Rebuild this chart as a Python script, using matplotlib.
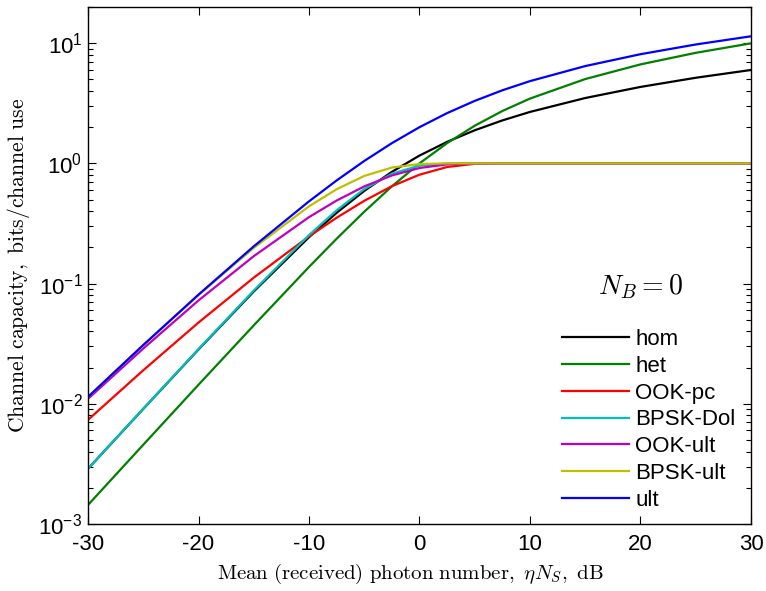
import math
import matplotlib
matplotlib.use('Agg')
import matplotlib.pyplot as plt
from matplotlib.ticker import FixedLocator, LogLocator, FuncFormatter, NullFormatter

# mean received photon number, dB
x_db = [-30, -25, -20, -15, -10, -7.5, -5, -2.5, 0, 2.5, 5, 7.5, 10, 15, 20, 25, 30]

# capacities (bits / channel use)
hom = [0.00288, 0.00907, 0.0283, 0.0859, 0.243, 0.388, 0.590, 0.850, 1.161, 1.510,
       1.885, 2.277, 2.679, 3.497, 4.324, 5.153, 5.983]
het = [0.00144, 0.00456, 0.0144, 0.0449, 0.1375, 0.236, 0.396, 0.644, 1.000, 1.474,
       2.057, 2.727, 3.459, 5.028, 6.658, 8.309, 9.967]
ook_pc = [0.00735, 0.0190, 0.0474, 0.112, 0.247, 0.353, 0.488, 0.646, 0.805, 0.933,
          0.9915, 0.9995, 1.0, 1.0, 1.0, 1.0, 1.0]
bpsk_dol = [0.00288, 0.00909, 0.0285, 0.0875, 0.253, 0.407, 0.611, 0.820, 0.958, 0.997,
            1.0, 1.0, 1.0, 1.0, 1.0, 1.0, 1.0]
ook_ult = [0.0110, 0.0288, 0.0724, 0.169, 0.357, 0.4905, 0.643, 0.793, 0.915, 0.981,
           0.9987, 1.0, 1.0, 1.0, 1.0, 1.0, 1.0]
bpsk_ult = [0.0114, 0.0308, 0.0801, 0.198, 0.439, 0.609, 0.786, 0.923, 0.987, 0.9994,
            1.0, 1.0, 1.0, 1.0, 1.0, 1.0, 1.0]
ult = [0.0114, 0.0308, 0.0809, 0.204, 0.483, 0.721, 1.047, 1.473, 2.000, 2.619,
       3.310, 4.055, 4.834, 6.448, 8.094, 9.749, 11.408]

series = [('hom', hom, 'k'),
          ('het', het, (0, 0.5, 0)),
          ('OOK-pc', ook_pc, (1, 0, 0)),
          ('BPSK-Dol', bpsk_dol, (0, 0.75, 0.75)),
          ('OOK-ult', ook_ult, (0.75, 0, 0.75)),
          ('BPSK-ult', bpsk_ult, (0.75, 0.75, 0)),
          ('ult', ult, (0, 0, 1))]

plt.rcParams['font.family'] = ['Liberation Sans', 'DejaVu Sans']
plt.rcParams['mathtext.fontset'] = 'custom'
plt.rcParams['mathtext.rm'] = 'Liberation Sans'
plt.rcParams['mathtext.it'] = 'Liberation Sans:italic'
plt.rcParams['axes.unicode_minus'] = False

fig = plt.figure(figsize=(7.66, 5.91), dpi=100)
ax = fig.add_axes([0.1149, 0.1134, 0.8655, 0.8748])

for name, vals, col in series:
    ax.plot(x_db, vals, color=col, lw=1.6, label=name)

ax.set_yscale('log')
ax.set_xlim(-30, 30)
ax.set_ylim(1e-3, 20)
ax.xaxis.set_major_locator(FixedLocator([-30, -20, -10, 0, 10, 20, 30]))
ax.yaxis.set_major_locator(LogLocator(base=10, numticks=10))
ax.yaxis.set_minor_locator(LogLocator(base=10, subs=range(2, 10), numticks=10))
ax.yaxis.set_minor_formatter(NullFormatter())
ax.yaxis.set_major_formatter(FuncFormatter(
    lambda v, p: r'$\mathregular{10^{%d}}$' % round(math.log10(v))))
ax.tick_params(which='both', direction='in', top=True, right=True, labelsize=16)
ax.tick_params(which='major', length=6, width=0.8)
ax.tick_params(which='minor', length=3.5, width=0.8)
ax.tick_params(axis='x', pad=7)
ax.tick_params(axis='y', pad=4)
for s in ax.spines.values():
    s.set_linewidth(1.0)

ax.set_xlabel(r'$\mathrm{Mean\ (received)\ photon\ number,}\ \eta N_S\mathrm{,\ dB}$',
              fontsize=15, math_fontfamily='cm')
ax.xaxis.set_label_coords(0.486, -0.073)
ax.set_ylabel(r'$\mathrm{Channel\ capacity,\ bits/channel\ use}$',
              fontsize=15.6, math_fontfamily='cm', labelpad=5)

ax.text(0.834, 0.46, r'$N_B = 0$', transform=ax.transAxes, fontsize=20,
        math_fontfamily='cm', ha='center', va='center')

ax.legend(loc='upper left', bbox_to_anchor=(0.715, 0.377), frameon=False,
          fontsize=16, handlelength=3.0, handletextpad=0.3, labelspacing=0.26,
          borderpad=0, borderaxespad=0)

fig.savefig('out.png', dpi=100)
